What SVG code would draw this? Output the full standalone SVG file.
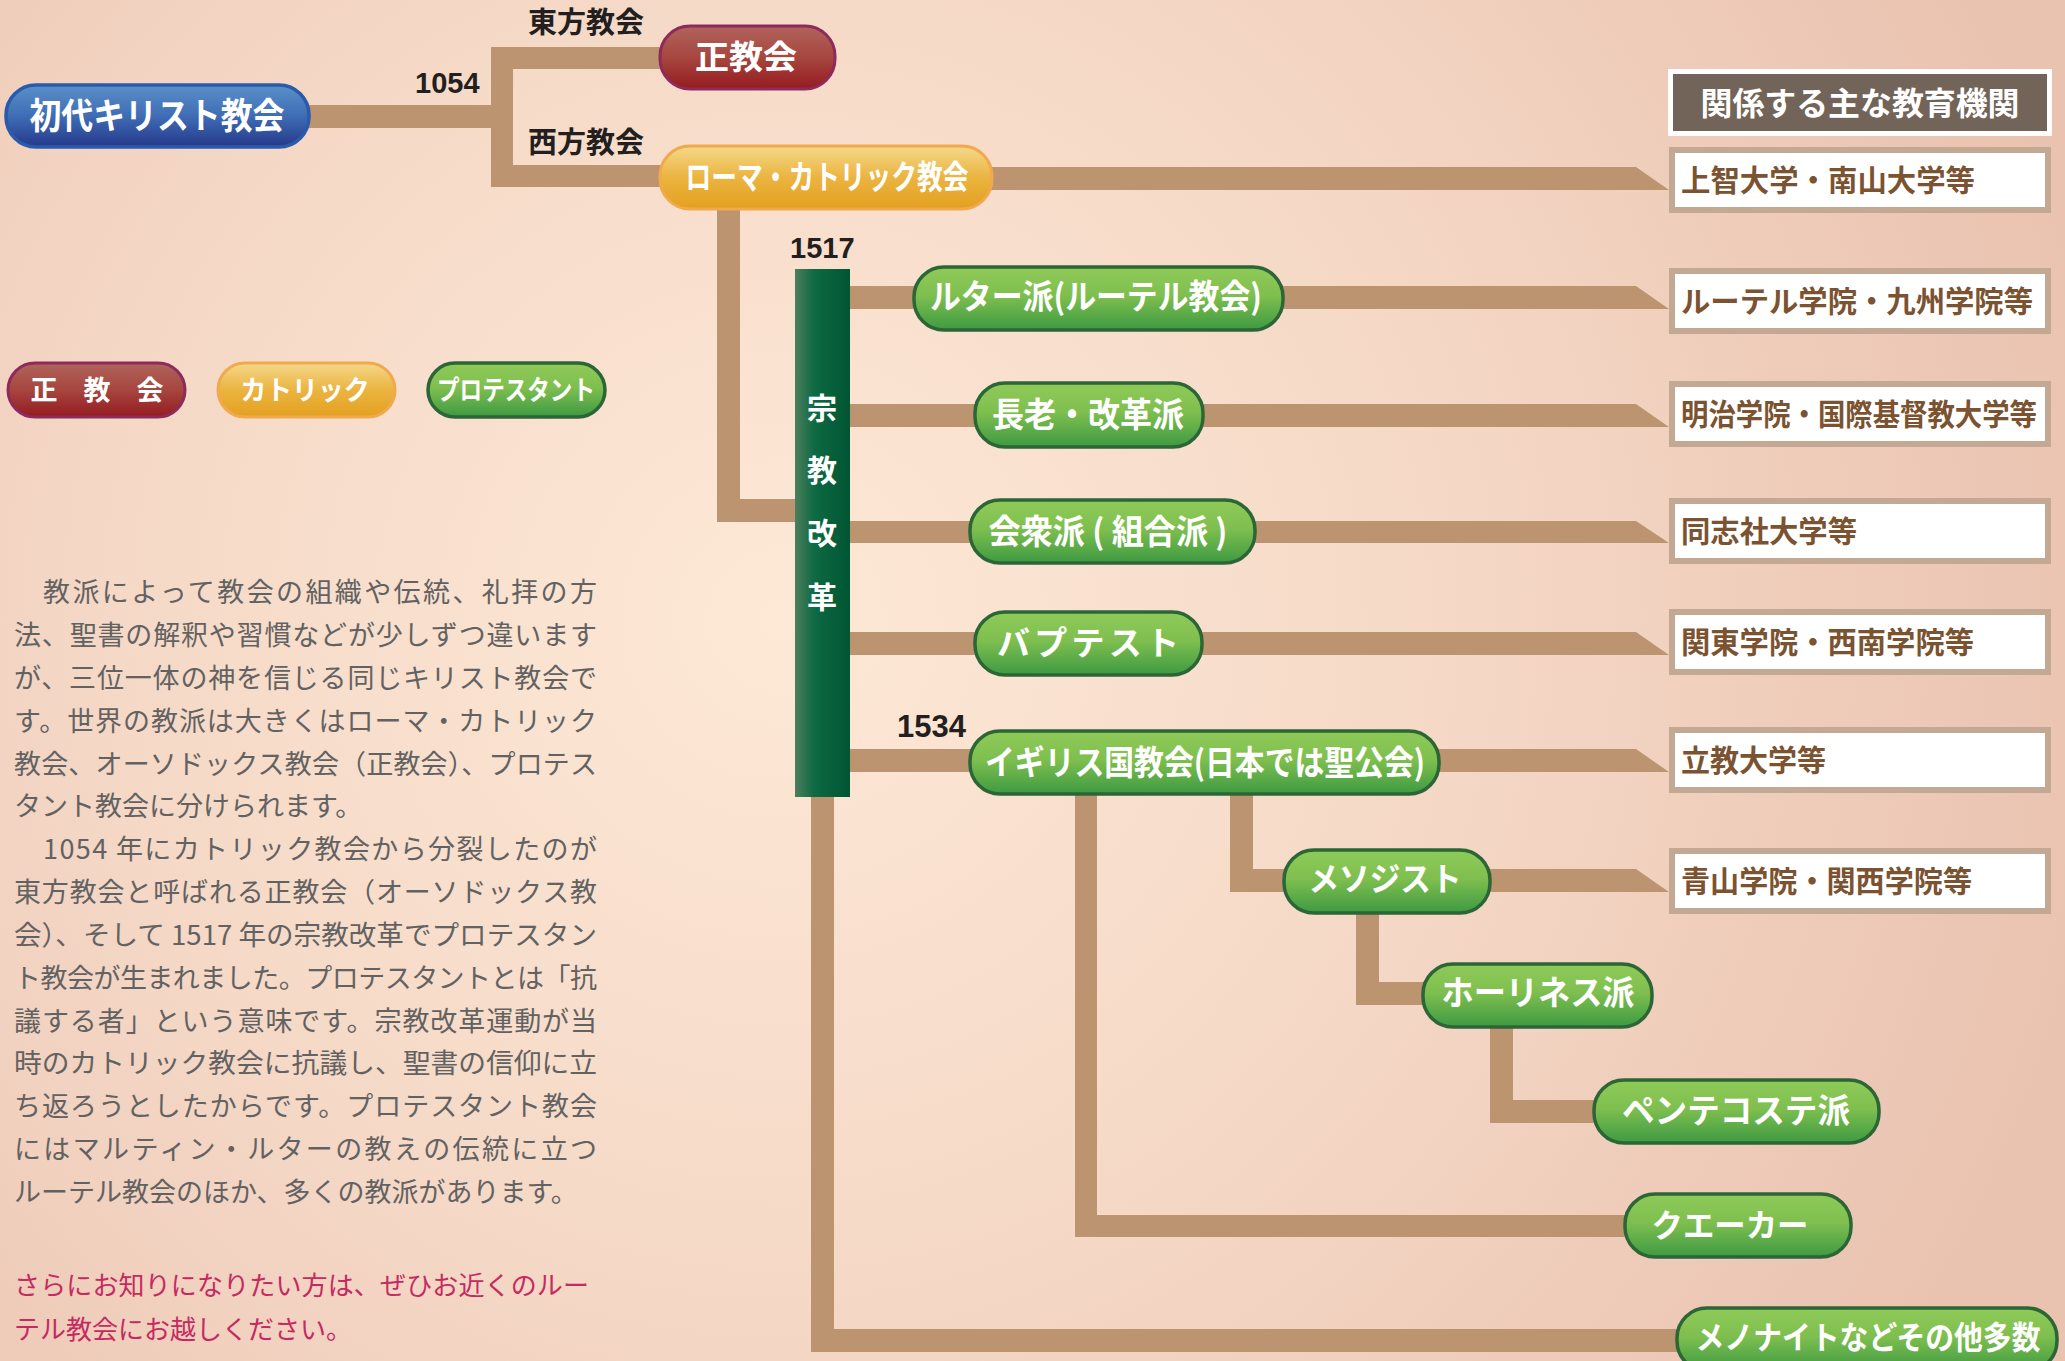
<svg xmlns="http://www.w3.org/2000/svg" width="2065" height="1361" viewBox="0 0 2065 1361">
<defs>
<radialGradient id="bg" gradientUnits="userSpaceOnUse" cx="780" cy="620" r="1350">
<stop offset="0" stop-color="#fde9d6"/>
<stop offset="0.45" stop-color="#f6dac8"/>
<stop offset="1" stop-color="#eac2b0"/>
</radialGradient>
<linearGradient id="gGreen" x1="0" y1="0" x2="0" y2="1">
<stop offset="0" stop-color="#8fca58"/>
<stop offset="0.45" stop-color="#7fbf4f"/>
<stop offset="1" stop-color="#3e9a42"/>
</linearGradient>
<linearGradient id="gRed" x1="0" y1="0" x2="0" y2="1">
<stop offset="0" stop-color="#b0645c"/>
<stop offset="0.5" stop-color="#a6463f"/>
<stop offset="1" stop-color="#951b20"/>
</linearGradient>
<linearGradient id="gOrange" x1="0" y1="0" x2="0" y2="1">
<stop offset="0" stop-color="#f4d88a"/>
<stop offset="0.5" stop-color="#ebb440"/>
<stop offset="1" stop-color="#e3a020"/>
</linearGradient>
<linearGradient id="gBlue" x1="0" y1="0" x2="0" y2="1">
<stop offset="0" stop-color="#5a90c9"/>
<stop offset="0.5" stop-color="#3f6db5"/>
<stop offset="1" stop-color="#25388a"/>
</linearGradient>
<linearGradient id="gBar" x1="0" y1="0" x2="1" y2="0">
<stop offset="0" stop-color="#4e7e5c"/>
<stop offset="0.35" stop-color="#0d6a43"/>
<stop offset="1" stop-color="#005533"/>
</linearGradient>
</defs>
<style>
.c{fill:#bc9470}
.ng{fill:url(#gGreen);stroke:#2c6636;stroke-width:3.5}
.nr{fill:url(#gRed);stroke:#8e2a5c;stroke-width:3}
.no{fill:url(#gOrange);stroke:#f2a84c;stroke-width:3}
.nb{fill:url(#gBlue);stroke:#2a5bab;stroke-width:3.5}
.nt{font-family:"Noto Sans CJK JP","Noto Sans CJK SC",sans-serif;font-weight:700;fill:#ffffff;text-anchor:middle}
.box{fill:#ffffff;stroke:#c3a994;stroke-width:6}
.bt{font-family:"Noto Sans CJK JP",sans-serif;font-weight:700;fill:#7b5331;font-size:29.5px}
.lbl{font-family:"Noto Sans CJK JP",sans-serif;font-weight:700;fill:#231f20;font-size:29px}
.num{font-family:"Liberation Sans","Noto Sans CJK JP",sans-serif;font-weight:700;fill:#231f20;font-size:29px}
.body{font-family:"Noto Sans CJK JP",sans-serif;fill:#626262;font-size:27px}
.red{font-family:"Noto Sans CJK JP",sans-serif;fill:#c52a60;font-size:26px}
</style>
<rect x="0" y="0" width="2065" height="1361" fill="url(#bg)"/>

<g id="connectors">
<rect class="c" x="300" y="105" width="213" height="23"/>
<rect class="c" x="491" y="47" width="22" height="140"/>
<rect class="c" x="491" y="47" width="175" height="22"/>
<rect class="c" x="491" y="165" width="175" height="22"/>
<polygon class="c" points="980,167 1636,167 1669,190 980,190"/>
<rect class="c" x="717" y="205" width="23" height="317"/>
<rect class="c" x="717" y="499" width="82" height="23"/>
<rect class="c" x="845" y="286" width="75" height="23"/>
<polygon class="c" points="1275,286 1636,286 1669,309 1275,309"/>
<rect class="c" x="845" y="404" width="135" height="23"/>
<polygon class="c" points="1195,404 1636,404 1669,427 1195,427"/>
<rect class="c" x="845" y="521" width="130" height="22"/>
<polygon class="c" points="1250,521 1636,521 1669,543 1250,543"/>
<rect class="c" x="845" y="632" width="135" height="23"/>
<polygon class="c" points="1195,632 1636,632 1669,655 1195,655"/>
<rect class="c" x="845" y="749" width="130" height="23"/>
<polygon class="c" points="1430,749 1636,749 1669,772 1430,772"/>
<rect class="c" x="811" y="790" width="23" height="562"/>
<rect class="c" x="811" y="1329" width="874" height="23"/>
<rect class="c" x="1075" y="790" width="22" height="447"/>
<rect class="c" x="1075" y="1215" width="556" height="22"/>
<rect class="c" x="1230" y="790" width="23" height="102"/>
<rect class="c" x="1230" y="869" width="60" height="23"/>
<polygon class="c" points="1485,869 1636,869 1669,892 1485,892"/>
<rect class="c" x="1356" y="905" width="23" height="100"/>
<rect class="c" x="1356" y="982" width="74" height="23"/>
<rect class="c" x="1490" y="1020" width="23" height="103"/>
<rect class="c" x="1490" y="1100" width="110" height="23"/>
</g>

<g id="labels">
<text class="lbl" x="528" y="33">東方教会</text>
<text class="lbl" x="528" y="153">西方教会</text>
<text class="num" x="415" y="93">1054</text>
<text class="num" x="790" y="258">1517</text>
<text class="num" x="897" y="737" style="font-size:31px">1534</text>
</g>

<g id="node-shodai"><rect class="nb" x="6" y="85" width="303" height="62" rx="30"/><text class="nt" x="157" y="129" font-size="36" textLength="255" lengthAdjust="spacingAndGlyphs">初代キリスト教会</text></g>
<g id="node-seikyokai"><rect class="nr" x="660" y="26" width="175" height="63" rx="30"/><text class="nt" x="746" y="69" font-size="33" textLength="102" lengthAdjust="spacingAndGlyphs">正教会</text></g>
<g id="node-roman"><rect class="no" x="660" y="146" width="332" height="63" rx="30"/><text class="nt" x="827" y="189" font-size="33" textLength="283" lengthAdjust="spacingAndGlyphs">ローマ・カトリック教会</text></g>

<g id="node-reformation"><rect x="795" y="269" width="55" height="528" fill="url(#gBar)"/>
<text class="nt" x="822" y="419" font-size="30">宗</text>
<text class="nt" x="822" y="481" font-size="30">教</text>
<text class="nt" x="822" y="544" font-size="30">改</text>
<text class="nt" x="822" y="608" font-size="30">革</text></g>

<g id="node-luther"><rect class="ng" x="914" y="267" width="369" height="63" rx="30"/><text class="nt" x="1096" y="309" font-size="34" textLength="332" lengthAdjust="spacingAndGlyphs">ルター派(ルーテル教会)</text></g>
<g id="node-presby"><rect class="ng" x="975" y="383" width="228" height="64" rx="30"/><text class="nt" x="1088" y="427" font-size="34" textLength="192" lengthAdjust="spacingAndGlyphs">長老・改革派</text></g>
<g id="node-congreg"><rect class="ng" x="970" y="500" width="285" height="63" rx="30"/><text class="nt" x="1108" y="544" font-size="34" textLength="239" lengthAdjust="spacingAndGlyphs">会衆派 ( 組合派 )</text></g>
<g id="node-baptist"><rect class="ng" x="975" y="612" width="227" height="63" rx="30"/><text class="nt" x="1088" y="655" font-size="33" textLength="182">バプテスト</text></g>
<g id="node-anglican"><rect class="ng" x="970" y="731" width="469" height="63" rx="30"/><text class="nt" x="1205" y="775" font-size="34" textLength="440" lengthAdjust="spacingAndGlyphs">イギリス国教会(日本では聖公会)</text></g>
<g id="node-methodist"><rect class="ng" x="1284" y="850" width="206" height="63" rx="30"/><text class="nt" x="1385" y="891" font-size="33" textLength="153" lengthAdjust="spacingAndGlyphs">メソジスト</text></g>
<g id="node-holiness"><rect class="ng" x="1423" y="964" width="229" height="63" rx="30"/><text class="nt" x="1538" y="1005" font-size="34" textLength="193" lengthAdjust="spacingAndGlyphs">ホーリネス派</text></g>
<g id="node-pentecost"><rect class="ng" x="1594" y="1080" width="285" height="63" rx="30"/><text class="nt" x="1736" y="1123" font-size="34" textLength="228" lengthAdjust="spacingAndGlyphs">ペンテコステ派</text></g>
<g id="node-quaker"><rect class="ng" x="1625" y="1194" width="226" height="63" rx="30"/><text class="nt" x="1730" y="1237" font-size="32" textLength="157" lengthAdjust="spacingAndGlyphs">クエーカー</text></g>
<g id="node-mennonite"><rect class="ng" x="1677" y="1308" width="380" height="63" rx="30"/><text class="nt" x="1868" y="1349" font-size="32" textLength="345" lengthAdjust="spacingAndGlyphs">メノナイトなどその他多数</text></g>

<g id="header"><rect x="1670.5" y="71.5" width="379" height="62" fill="#736459" stroke="#ffffff" stroke-width="5"/><text class="nt" x="1860" y="115" font-size="32" textLength="319" lengthAdjust="spacingAndGlyphs">関係する主な教育機関</text></g>

<g id="box-sophia"><rect class="box" x="1672" y="150" width="376" height="60"/><text class="bt" x="1681" y="191" textLength="294" lengthAdjust="spacingAndGlyphs">上智大学・南山大学等</text></g>
<g id="box-lutheran"><rect class="box" x="1672" y="271" width="376" height="60"/><text class="bt" x="1681" y="312" textLength="352" lengthAdjust="spacingAndGlyphs">ルーテル学院・九州学院等</text></g>
<g id="box-meiji"><rect class="box" x="1672" y="384" width="376" height="60"/><text class="bt" x="1681" y="425" textLength="356" lengthAdjust="spacingAndGlyphs">明治学院・国際基督教大学等</text></g>
<g id="box-doshisha"><rect class="box" x="1672" y="501" width="376" height="60"/><text class="bt" x="1681" y="542" textLength="176" lengthAdjust="spacingAndGlyphs">同志社大学等</text></g>
<g id="box-kanto"><rect class="box" x="1672" y="612" width="376" height="60"/><text class="bt" x="1681" y="653" textLength="293" lengthAdjust="spacingAndGlyphs">関東学院・西南学院等</text></g>
<g id="box-rikkyo"><rect class="box" x="1672" y="730" width="376" height="60"/><text class="bt" x="1681" y="771" textLength="145" lengthAdjust="spacingAndGlyphs">立教大学等</text></g>
<g id="box-aoyama"><rect class="box" x="1672" y="851" width="376" height="60"/><text class="bt" x="1681" y="892" textLength="291" lengthAdjust="spacingAndGlyphs">青山学院・関西学院等</text></g>

<g id="legend">
<rect class="nr" x="8" y="363" width="177" height="54" rx="27"/><text class="nt" x="97" y="400" font-size="27" textLength="133">正教会</text>
<rect class="no" x="218" y="363" width="177" height="54" rx="27"/><text class="nt" x="305" y="400" font-size="27" textLength="129" lengthAdjust="spacingAndGlyphs">カトリック</text>
<rect class="ng" x="428" y="363" width="177" height="54" rx="27"/><text class="nt" x="516" y="400" font-size="27" textLength="158" lengthAdjust="spacingAndGlyphs">プロテスタント</text>
</g>

<g id="body-text">
<text class="body" x="43" y="602" textLength="554">教派によって教会の組織や伝統、礼拝の方</text>
<text class="body" x="14" y="645" textLength="583">法、聖書の解釈や習慣などが少しずつ違います</text>
<text class="body" x="14" y="688" textLength="583">が、三位一体の神を信じる同じキリスト教会で</text>
<text class="body" x="14" y="731" textLength="583">す。世界の教派は大きくはローマ・カトリック</text>
<text class="body" x="14" y="774" textLength="583">教会、オーソドックス教会（正教会）、プロテス</text>
<text class="body" x="14" y="816">タント教会に分けられます。</text>
<text class="body" x="43" y="859" textLength="554">1054 年にカトリック教会から分裂したのが</text>
<text class="body" x="14" y="902" textLength="583">東方教会と呼ばれる正教会（オーソドックス教</text>
<text class="body" x="14" y="945" textLength="583" lengthAdjust="spacingAndGlyphs">会）、そして 1517 年の宗教改革でプロテスタン</text>
<text class="body" x="14" y="988" textLength="583">ト教会が生まれました。プロテスタントとは「抗</text>
<text class="body" x="14" y="1031" textLength="583">議する者」という意味です。宗教改革運動が当</text>
<text class="body" x="14" y="1073" textLength="583" lengthAdjust="spacingAndGlyphs">時のカトリック教会に抗議し、聖書の信仰に立</text>
<text class="body" x="14" y="1116" textLength="583">ち返ろうとしたからです。プロテスタント教会</text>
<text class="body" x="14" y="1159" textLength="583">にはマルティン・ルターの教えの伝統に立つ</text>
<text class="body" x="14" y="1202">ルーテル教会のほか、多くの教派があります。</text>
<text class="red" x="14" y="1295" textLength="575">さらにお知りになりたい方は、ぜひお近くのルー</text>
<text class="red" x="14" y="1339">テル教会にお越しください。</text>
</g>
</svg>
